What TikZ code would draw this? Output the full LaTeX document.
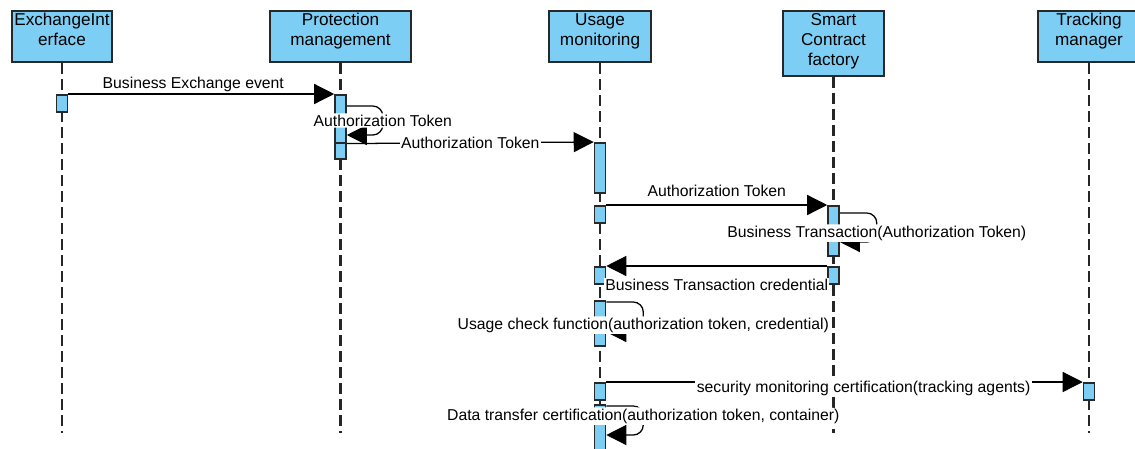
\documentclass[tikz,border=0pt]{standalone}
\usepackage{fontspec}
\setmainfont{Liberation Sans}
\usetikzlibrary{arrows.meta,calc}
\definecolor{boxblue}{RGB}{125,206,245}
\definecolor{edgegray}{RGB}{40,40,40}

\begin{document}
\begin{tikzpicture}[x=0.025cm, y=-0.025cm,
  head/.style={draw=edgegray, line width=1.4pt, fill=boxblue, anchor=north, inner sep=0pt},
  headtext/.style={anchor=north, align=center, inner sep=0pt, font=\fontsize{12.2}{14.2}\selectfont},
  life/.style={draw=black!85, line width=1.7pt, dash pattern=on 2.75mm off 1.25mm},
  bar/.style={draw=edgegray, line width=1.1pt, fill=boxblue, anchor=north, minimum width=2.75mm, inner sep=0pt},
  msg/.style={line width=0.9pt, -{Triangle[length=5mm,width=5mm]}},
  lbl/.style={fill=white, inner sep=1pt, font=\fontsize{11.2}{13}\selectfont}]
\useasboundingbox (0,0) rectangle (1135,448);

\node[head, minimum width=25mm, minimum height=12.75mm] (ei) at (62,10) {};
\node[headtext] (eit) at ($(ei.north)+(0,3)$) {ExchangeInt\\erface};
\node[head, minimum width=35.25mm, minimum height=12.75mm] (pm) at (340.5,10) {};
\node[headtext] (pmt) at ($(pm.north)+(0,3)$) {Protection\\management};
\node[head, minimum width=25.5mm, minimum height=12.75mm] (um) at (600,10) {};
\node[headtext] (umt) at ($(um.north)+(0,3)$) {Usage\\monitoring};
\node[head, minimum width=25.25mm, minimum height=16.25mm] (sc) at (833.5,10) {};
\node[headtext] (sct) at ($(sc.north)+(0,3)$) {Smart\\Contract\\factory};
\node[head, minimum width=25.5mm, minimum height=12.75mm] (tm) at (1089,10) {};
\node[headtext] (tmt) at ($(tm.north)+(0,3)$) {Tracking\\manager};

\coordinate (eiend) at (62,433);
\coordinate (pmend) at (340.5,433);
\coordinate (umend) at (600,433);
\coordinate (scend) at (833.5,433);
\coordinate (tmend) at (1089,433);
\draw[life] (ei.south) -- (eiend);
\draw[life] (pm.south) -- (pmend);
\draw[life] (um.south) -- (umend);
\draw[life] (sc.south) -- (scend);
\draw[life] (tm.south) -- (tmend);

\node[bar, minimum height=4.25mm] (ei1) at (62,94) {};
\node[bar, minimum height=12mm] (pm1) at (340.5,94) {};
\node[bar, minimum height=4mm] (pm2) at (340.5,142) {};
\node[bar, minimum height=12.5mm] (um1) at (600,142) {};
\node[bar, minimum height=4.25mm] (um2) at (600,205) {};
\node[bar, minimum height=12.5mm] (sc1) at (833.5,205) {};
\node[bar, minimum height=4.25mm] (sc2) at (833.5,266) {};
\node[bar, minimum height=4.25mm] (um3) at (600,266) {};
\node[bar, minimum height=11.25mm] (um4) at (600,300) {};
\node[bar, minimum height=4.25mm] (um5) at (600,382) {};
\node[bar, minimum height=4.25mm] (tm1) at (1089,382) {};
\node[bar, minimum height=11.5mm] (um6) at (600,404) {};

\draw[msg] (ei1.north east) -- node[lbl, above, fill=none, pos=0.47] {Business Exchange event} (pm1.north west);
\draw[msg, rounded corners=2.5mm] ($(pm1.north east)+(0,12)$) -- ++(36,0) -- node[lbl] {Authorization Token} ++(0,29) -- ($(pm1.north east)+(0,41)$);
\draw[msg] (pm1.south east) -- node[lbl] {Authorization Token} (um1.north west);
\draw[msg] (um2.north east) -- node[lbl, above=1.5mm, fill=none] {Authorization Token} (sc1.north west);
\draw[msg, rounded corners=2.5mm] ($(sc1.north east)+(0,8)$) -- ++(37,0) -- node[lbl, pos=0.69] {Business Transaction(Authorization Token)} ++(0,29) -- ($(sc1.north east)+(0,37)$);
\draw[msg] (sc2.north west) -- node[lbl, below=2.75mm] {Business Transaction credential} (um3.north east);
\draw[msg, rounded corners=2.5mm] ($(um4.north east)+(0,2)$) -- ++(37,0) -- node[lbl, pos=0.77] {Usage check function(authorization token, credential)} ++(0,30) -- ($(um4.north east)+(0,32)$);
\draw[msg] (um5.north east) -- node[lbl, pos=0.54, yshift=-1.5mm] {security monitoring certification(tracking agents)} (tm1.north west);
\draw[msg, rounded corners=2.5mm] ($(um6.north east)+(0,2)$) -- ++(37,0) -- node[lbl, pos=0.35] {Data transfer certification(authorization token, container)} ++(0,29) -- ($(um6.north east)+(0,31)$);
\end{tikzpicture}
\end{document}
